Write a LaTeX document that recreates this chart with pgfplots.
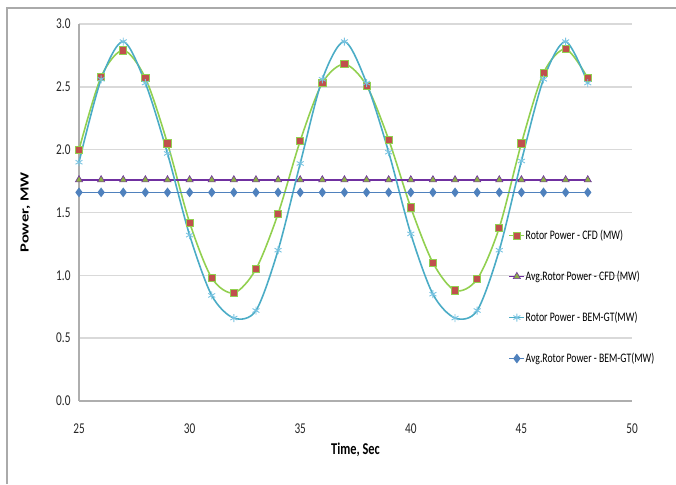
\documentclass[border=0pt]{standalone}
\usepackage{pgfplots}
\pgfplotsset{compat=1.18}
\usepackage{pgfplotstable}
\usepackage{fontspec}
\setmainfont[FakeStretch=0.75]{Carlito}
\definecolor{cfdgreen}{RGB}{146,208,80}
\definecolor{cfdred}{RGB}{192,80,77}
\definecolor{avgpurple}{RGB}{112,48,160}
\definecolor{avgolive}{RGB}{140,175,70}
\definecolor{bemcyan}{RGB}{75,172,198}
\definecolor{bemmark}{RGB}{120,195,225}
\definecolor{avgblue}{RGB}{79,129,189}
\definecolor{gridgray}{RGB}{217,217,217}
\definecolor{framegray}{RGB}{170,170,170}

\pgfplotstableread{
t p
25 2.00
26 2.58
27 2.79
28 2.57
29 2.05
30 1.42
31 0.98
32 0.86
33 1.05
34 1.49
35 2.07
36 2.53
37 2.68
38 2.51
39 2.08
40 1.54
41 1.10
42 0.88
43 0.97
44 1.38
45 2.05
46 2.61
47 2.80
48 2.57
}\cfd

\pgfplotstableread{
t p
25 1.90
26 2.56
27 2.86
28 2.53
29 1.97
30 1.32
31 0.84
32 0.66
33 0.72
34 1.20
35 1.89
36 2.56
37 2.86
38 2.53
39 1.98
40 1.33
41 0.85
42 0.66
43 0.72
44 1.20
45 1.91
46 2.56
47 2.86
48 2.53
}\bem

\pgfplotstableread{
t p
25 1.76
26 1.76
27 1.76
28 1.76
29 1.76
30 1.76
31 1.76
32 1.76
33 1.76
34 1.76
35 1.76
36 1.76
37 1.76
38 1.76
39 1.76
40 1.76
41 1.76
42 1.76
43 1.76
44 1.76
45 1.76
46 1.76
47 1.76
48 1.76
}\avgcfd

\pgfplotstableread{
t p
25 1.66
26 1.66
27 1.66
28 1.66
29 1.66
30 1.66
31 1.66
32 1.66
33 1.66
34 1.66
35 1.66
36 1.66
37 1.66
38 1.66
39 1.66
40 1.66
41 1.66
42 1.66
43 1.66
44 1.66
45 1.66
46 1.66
47 1.66
48 1.66
}\avgbem

\begin{document}
\begin{tikzpicture}
\useasboundingbox (0,0) rectangle (676pt,484pt);
\draw[framegray, line width=1.5pt] (7pt,0pt) -- (7pt,476pt) -- (676pt,476pt);
\begin{axis}[
  at={(79pt,83pt)}, anchor=south west,
  scale only axis, width=553pt, height=377pt,
  xmin=25, xmax=50, ymin=0, ymax=3,
  xtick={25,30,...,50},
  ytick={0,0.5,...,3},
  /pgf/number format/assume math mode=true,
  y tick label style={/pgf/number format/fixed, /pgf/number format/fixed zerofill, /pgf/number format/precision=1, xshift=-5pt},
  x tick label style={/pgf/number format/fixed, /pgf/number format/precision=0, yshift=-19pt},
  tick label style={font=\fontsize{15}{18}\selectfont, text=black!85},
  major tick length=0pt,
  axis x line*=bottom, axis y line*=left,
  axis line style={gridgray!80!black, line width=1.2pt},
  ymajorgrids, grid style={gridgray, line width=1.5pt},
  xlabel={\bfseries Time, Sec},
  ylabel={\scalebox{1.3333}[0.75]{\bfseries Power, MW}},
  label style={font=\fontsize{16.5}{19}\selectfont},
  xlabel style={yshift=-3pt},
  ylabel style={yshift=19pt},
  clip=false,
  legend cell align=left,
  legend image code/.code={\draw[mark repeat=2, mark phase=2, #1] plot coordinates {(0pt,0pt) (7.5pt,0pt) (15pt,0pt)};},
  legend style={draw=none, fill=none, at={(axis description cs:0.771,0.462)}, anchor=north west,
    font=\fontsize{13}{15}\selectfont, row sep=28pt,
    nodes={inner xsep=0.5pt, inner ysep=1pt}},
]
\addplot[cfdgreen, line width=1.6pt, smooth, mark=square*, mark size=3.6pt,
  mark options={fill=cfdred, draw=cfdgreen, line width=0.8pt}] table[x=t,y=p] {\cfd};
\addlegendentry{Rotor Power - CFD (MW)}
\addplot[avgpurple, line width=1.6pt, mark=triangle*, mark size=4.2pt,
  mark options={fill=avgolive, draw=avgpurple, line width=0.6pt}] table[x=t,y=p] {\avgcfd};
\addlegendentry{Avg.Rotor Power - CFD (MW)}
\addplot[bemcyan, line width=1.6pt, smooth, mark=asterisk, mark size=4pt,
  mark options={draw=bemmark, line width=0.9pt}] table[x=t,y=p] {\bem};
\addlegendentry{Rotor Power - BEM-GT(MW)}
\addplot[avgblue, line width=1.6pt, mark=diamond*, mark size=3.6pt,
  mark options={fill=avgblue, draw=avgblue}] table[x=t,y=p] {\avgbem};
\addlegendentry{Avg.Rotor Power - BEM-GT(MW)}
\end{axis}
\end{tikzpicture}
\end{document}
